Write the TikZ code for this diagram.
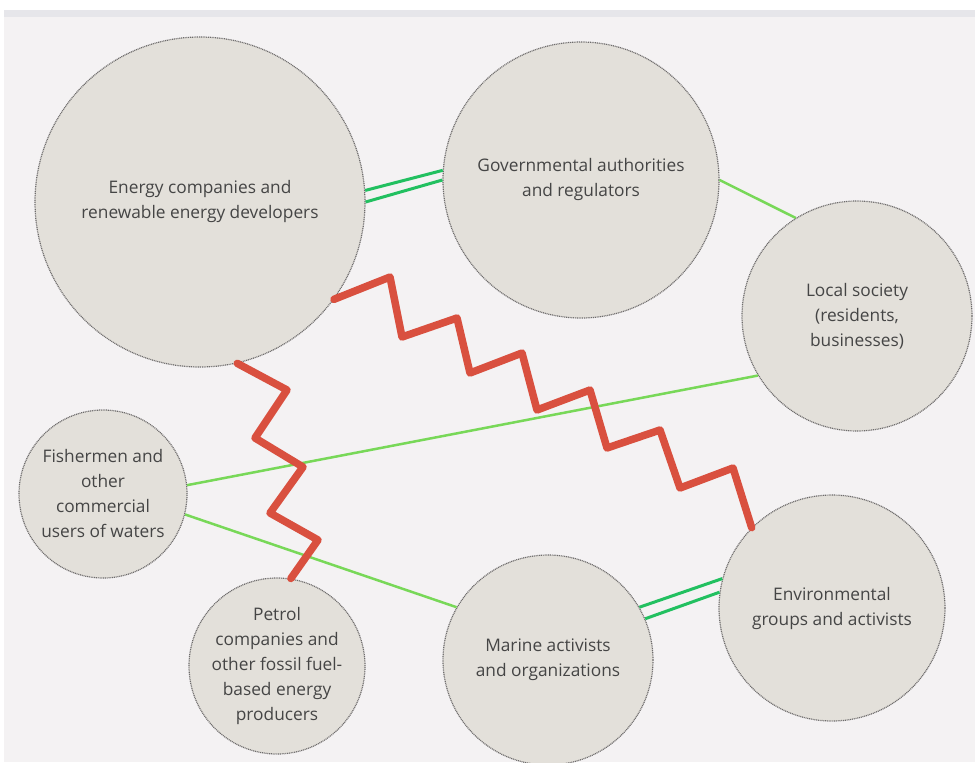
\documentclass[tikz,border=0pt]{standalone}
\usepackage{fontspec}
\setmainfont{Open Sans}
\definecolor{bgc}{HTML}{F4F2F3}
\definecolor{bandc}{HTML}{E6E6EA}
\definecolor{circfill}{HTML}{E3E0DA}
\definecolor{circline}{HTML}{6E6C6C}
\definecolor{redc}{HTML}{D9503F}
\definecolor{dgreen}{HTML}{22C060}
\definecolor{lgreen}{HTML}{78D858}
\definecolor{txtc}{HTML}{454545}
\tikzset{
  actor/.style={circle, fill=circfill, draw=circline, line width=1.2pt, dash pattern=on 1pt off 0.8pt, inner sep=0pt, align=center, text=txtc, font=\fontsize{17.3}{25}\selectfont},
  conflict/.style={draw=redc, line width=7.5pt, line join=round, line cap=round},
  strong/.style={draw=dgreen, line width=3pt},
  weak/.style={draw=lgreen, line width=2.5pt}
}
\begin{document}
\begin{tikzpicture}[x=1pt,y=-1pt]
\useasboundingbox (0,0) rectangle (975,763);
\fill[white] (0,0) rectangle (975,763);
\fill[bgc] (4,10) rectangle (975,762);
\fill[bandc] (4,10) rectangle (975,17);

\node[actor, minimum size=330pt] (energy) at (200,202) {Energy companies and\\renewable energy developers};
\node[actor, minimum size=276pt] (gov) at (581,180) {Governmental authorities\\and regulators};
\node[actor, minimum size=230pt] (local) at (857,316) {Local society\\(residents,\\businesses)};
\node[actor, minimum size=168pt] (fish) at (103,494) {Fishermen and\\other\\commercial\\users of waters};
\node[actor, minimum size=176pt] (petrol) at (277,666) {Petrol\\companies and\\other fossil fuel-\\based energy\\producers};
\node[actor, minimum size=210pt] (marine) at (548,660) {Marine activists\\and organizations};
\node[actor, minimum size=226pt] (env) at (832,608) {Environmental\\groups and activists};

% strong cooperation
\draw[strong] (energy.4.2) -- (gov.176.3);
\draw[strong] (energy.0.3) -- (gov.180.8);
\draw[strong] (marine.30) -- (env.165);
\draw[strong] (marine.23) -- (env.172.7);

% weak cooperation
\draw[weak] (gov.0) -- (local.122);
\draw[weak] (local.211.7) -- (fish.6.8);
\draw[weak] (fish.-14.7) -- (marine.150.4);

% conflicts
\draw[conflict] (energy.-36.5) -- (390,277) -- (402,337) -- (457,318) -- (470,373) -- (522,353) -- (537,410) -- (590,390) -- (607,448) -- (660,430) -- (680,488) -- (733,468) -- (env.135.4);
\draw[conflict] (energy.-77) -- (287,390) -- (255,438) -- (303,467) -- (270,513) -- (318,540) -- (petrol.81.6);
\end{tikzpicture}
\end{document}
